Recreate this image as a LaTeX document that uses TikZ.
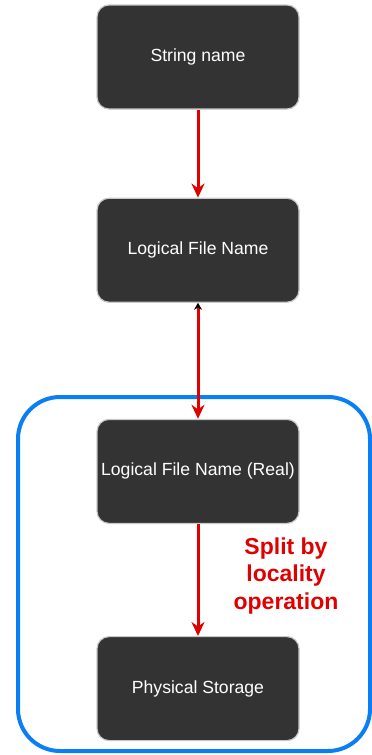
\documentclass[tikz,border=0pt]{standalone}
\usepackage{fontspec}
\setmainfont{Liberation Sans}
\usetikzlibrary{positioning,arrows.meta}

\definecolor{boxgray}{HTML}{333333}
\definecolor{edgegray}{HTML}{C8C8C8}
\definecolor{flowred}{HTML}{E00000}
\definecolor{framblue}{HTML}{0A7FF5}

\begin{document}
\begin{tikzpicture}[x=1pt,y=-1pt,
    stage/.style={draw=edgegray, line width=1.2pt, fill=boxgray, text=white,
        rounded corners=12pt, minimum width=202pt, minimum height=104pt,
        font=\fontsize{17.6}{21}\selectfont, anchor=center},
    flow/.style={draw=flowred, line width=3pt, -{Stealth[flowred,length=14pt,width=13pt]}}
]
    \useasboundingbox (0,0) rectangle (372,755);

    % grouping frame
    \draw[framblue, line width=4pt, rounded corners=42pt] (18,397) rectangle (370,751);

    \node[stage] (string name) at (198,57) {String name};
    \node[stage, below=88pt of string name] (logical name) {Logical File Name};
    \node[stage, below=116pt of logical name] (real name) {Logical File Name (Real)};
    \node[stage, below=112pt of real name] (physical storage) {Physical Storage};

    \draw[flow] (string name) -- (logical name);
    \draw[flow, {Stealth[black,length=7pt,width=8pt]}-{Stealth[flowred,length=14pt,width=13pt]}]
        (logical name) -- (real name);
    \draw[flow] (real name) -- (physical storage);

    \node[text=flowred, font=\bfseries\fontsize{23}{27.5}\selectfont, align=center]
        (split note) at (286,576) {Split by\\locality\\operation};
\end{tikzpicture}
\end{document}
